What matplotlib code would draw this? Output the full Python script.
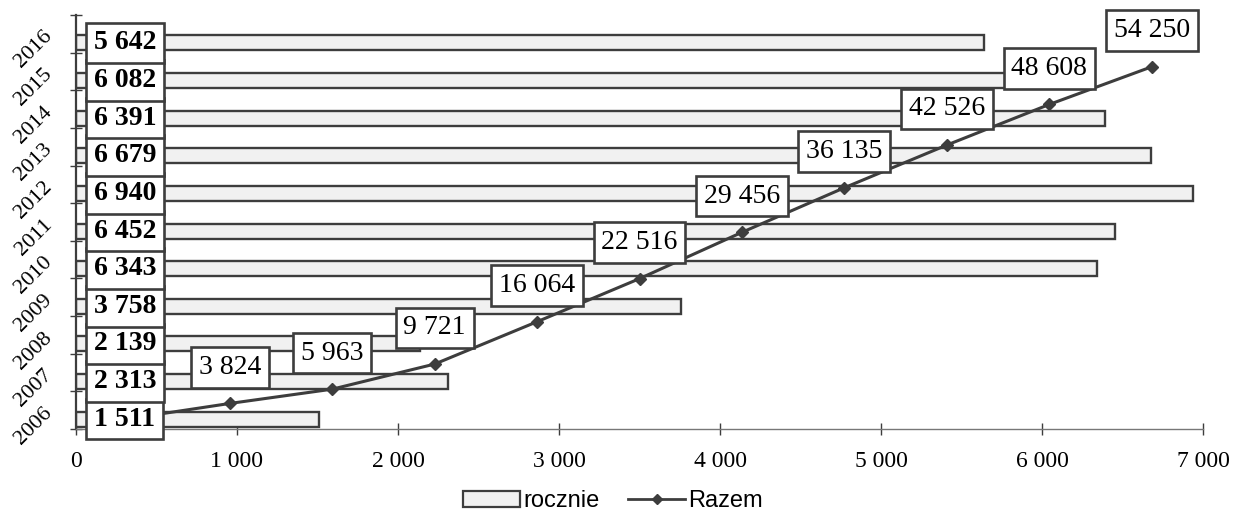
import matplotlib
matplotlib.use("Agg")
import matplotlib.pyplot as plt
from matplotlib.patches import Patch
from matplotlib.lines import Line2D

years = ["2006", "2007", "2008", "2009", "2010", "2011", "2012", "2013", "2014", "2015", "2016"]
rocznie = [1511, 2313, 2139, 3758, 6343, 6452, 6940, 6679, 6391, 6082, 5642]
razem = [1511, 3824, 5963, 9721, 16064, 22516, 29456, 36135, 42526, 48608, 54250]
xticks = [0, 1000, 2000, 3000, 4000, 5000, 6000, 7000]

dark = "#3d3d3d"
fill = "#f1f1f1"
serif = "Liberation Serif"


def fmt(v):
    return f"{v:,}".replace(",", " ")


fig = plt.figure(figsize=(12.34, 5.27), dpi=100)
rect = [76 / 1234, 1 - 429 / 527, (1203 - 76) / 1234, (429 - 15) / 527]

ax = fig.add_axes(rect)
pos = list(range(len(years)))
ax.barh([p - 0.24 for p in pos], rocznie, height=0.4, color=fill,
        edgecolor=dark, linewidth=1.7, zorder=2)
ax.set_xlim(0, 7000)
ax.set_ylim(-0.5, len(years) - 0.5)

ax.set_xticks(xticks)
ax.set_xticklabels([fmt(v) for v in xticks], fontfamily=serif, fontsize=17)
ax.tick_params(axis="x", direction="inout", length=9, width=1, color=dark, pad=11)

ax.set_yticks(pos)
ax.set_yticklabels(years, fontfamily=serif, fontsize=16, rotation=45,
                   ha="right", va="center", rotation_mode="anchor")
ax.tick_params(axis="y", length=0, pad=19)
ax.set_yticks([p - 0.5 for p in pos] + [len(years) - 0.5], minor=True)
ax.tick_params(axis="y", which="minor", direction="inout", length=9, width=1, color=dark)

for s in ["top", "right"]:
    ax.spines[s].set_visible(False)
ax.spines["left"].set_color(dark)
ax.spines["left"].set_linewidth(1.6)
ax.spines["bottom"].set_color("#777777")
ax.spines["bottom"].set_linewidth(1.0)

# second axes for the cumulative line
ax2 = fig.add_axes(rect)
ax2.patch.set_alpha(0)
ax2.axis("off")
ax2.set_xlim(-0.5, len(years) - 0.5)
ax2.set_ylim(0, 62000)
ax2.plot(pos, razem, color=dark, linewidth=2.2, marker="D", markersize=6, zorder=3)

box = dict(boxstyle="square,pad=0.28", facecolor="white", edgecolor=dark, linewidth=1.9)
for p, v in zip(pos[1:], razem[1:]):
    ax2.annotate(fmt(v), (p, v), xytext=(0, 26), textcoords="offset points",
                 ha="center", va="center", fontfamily=serif, fontsize=20,
                 bbox=box, zorder=5)

for p, v in zip(pos, rocznie):
    ax2.annotate(fmt(v), (0, p - 0.24), xycoords=ax.transData, xytext=(13, 0),
                 textcoords="offset points", ha="left", va="center",
                 fontfamily=serif, fontsize=20, fontweight="bold",
                 bbox=box, zorder=6)

handles = [Patch(facecolor=fill, edgecolor=dark, linewidth=1.6),
           Line2D([], [], color=dark, linewidth=2, marker="D", markersize=5)]
fig.legend(handles, ["rocznie", "Razem"], loc="lower center", ncol=2,
           bbox_to_anchor=(0.497, -0.012), frameon=False,
           prop={"family": "Liberation Sans", "size": 17},
           handlelength=2.4, handletextpad=0.15, columnspacing=1.2)

fig.savefig("out.png", dpi=100)
